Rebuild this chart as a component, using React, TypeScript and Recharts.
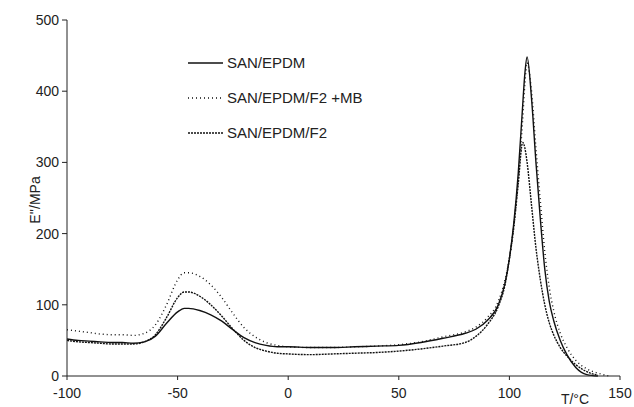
import React from 'react';
import { LineChart, Line, XAxis, YAxis } from 'recharts';

const temps = [-100, -95, -90, -85, -80, -75, -70, -65, -60, -55, -50, -47, -45, -40, -35, -30, -25, -20, -15, -10, -5, 0, 10, 20, 30, 40, 50, 60, 70, 80, 85, 90, 95, 98, 100, 102, 104, 106, 107, 108, 110, 112, 114, 116, 118, 120, 123, 126, 130, 135, 140, 145];

const sanEpdm = [52, 50, 49, 48, 47, 47, 46, 48, 56, 74, 90, 95, 95, 92, 86, 77, 65, 54, 47, 43, 41, 41, 40, 40, 41, 42, 43, 47, 53, 60, 66, 78, 100, 130, 165, 215, 285, 380, 425, 448, 390, 300, 220, 150, 105, 78, 50, 30, 12, 2, 0, null];
const sanEpdmF2Mb = [65, 63, 61, 59, 58, 58, 57, 60, 72, 100, 135, 145, 145, 140, 128, 110, 88, 68, 55, 47, 43, 41, 40, 40, 41, 42, 44, 48, 55, 62, 69, 82, 105, 135, 165, 210, 275, 360, 410, 440, 400, 320, 245, 175, 125, 92, 60, 40, 22, 10, 4, 0];
const sanEpdmF2 = [50, 48, 47, 46, 45, 45, 45, 48, 58, 82, 110, 118, 118, 112, 100, 84, 66, 50, 40, 35, 32, 31, 30, 31, 32, 33, 35, 38, 42, 47, 56, 72, 98, 128, 165, 210, 270, 328, 320, 300, 240, 180, 135, 100, 75, 58, 40, 28, 16, 6, 1, null];

const xTicks = [-100, -50, 0, 50, 100, 150];
const yTicks = [0, 100, 200, 300, 400, 500];

const seriesNames = ['SAN/EPDM', 'SAN/EPDM/F2 +MB', 'SAN/EPDM/F2'];
const seriesDash = ['', '1 3', '2 1'];

const data = temps.map((t, i) => ({
    t,
    a: sanEpdm[i],
    b: sanEpdmF2Mb[i],
    c: sanEpdmF2[i],
}));

const font = '"Liberation Sans", Arial, sans-serif';

// legend drawn on top of the plot, like the original figure
const LegendBox = () => (
    <svg width={220} height={100} style={{ position: 'absolute', left: 186, top: 53 }}>
        {seriesNames.map((name, i) => {
            const y = 10 + i * 35;
            return (
                <g key={name}>
                    <line x1={2} x2={37} y1={y} y2={y} stroke="#111" strokeWidth={1.3} strokeDasharray={seriesDash[i]} />
                    <text x={41} y={y + 5} fontSize={15} fill="#222" fontFamily={font}>{name}</text>
                </g>
            );
        })}
    </svg>
);

const App = () => {
    return (
        <div style={{ position: 'absolute', top: 0, left: 0, width: 634, height: 407, background: '#fff' }}>
            <LineChart width={634} height={407} data={data} margin={{ top: 20, right: 14, left: 0, bottom: 0 }}>
                <XAxis
                    dataKey="t"
                    type="number"
                    domain={[-100, 150]}
                    ticks={xTicks}
                    height={31}
                    tick={{ fill: '#222', fontSize: 14, fontFamily: font }}
                    tickSize={4}
                    tickMargin={8}
                    stroke="#222"
                    label={{
                        content: () => (
                            <text x={575} y={404} textAnchor="middle" fontSize={14} fill="#222" fontFamily={font}>T/°C</text>
                        ),
                    }}
                />
                <YAxis
                    type="number"
                    domain={[0, 500]}
                    ticks={yTicks}
                    width={67}
                    tick={{ fill: '#222', fontSize: 14, fontFamily: font }}
                    tickSize={5}
                    tickMargin={3}
                    stroke="#222"
                    label={{
                        content: () => (
                            <text x={36} y={200} transform="rotate(-90 36 200)" textAnchor="middle" dominantBaseline="middle" fontSize={14} fill="#222" fontFamily={font}>E''/MPa</text>
                        ),
                    }}
                />
                <Line type="monotone" dataKey="a" name={seriesNames[0]} stroke="#111" strokeWidth={1.4} dot={false} isAnimationActive={false} />
                <Line type="monotone" dataKey="b" name={seriesNames[1]} stroke="#111" strokeWidth={1.4} strokeDasharray={seriesDash[1]} dot={false} isAnimationActive={false} />
                <Line type="monotone" dataKey="c" name={seriesNames[2]} stroke="#111" strokeWidth={1.4} strokeDasharray={seriesDash[2]} dot={false} isAnimationActive={false} />
            </LineChart>
            <LegendBox />
        </div>
    );
};

export default App;
